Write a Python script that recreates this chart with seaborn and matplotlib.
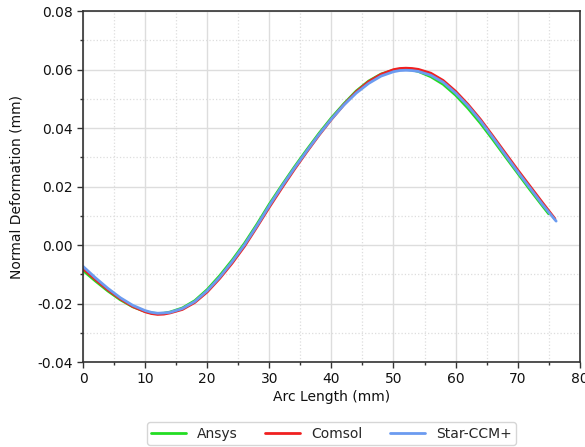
import numpy as np
import pandas as pd
import matplotlib
matplotlib.use("Agg")
import matplotlib.pyplot as plt
import seaborn as sns
from matplotlib.ticker import MultipleLocator

series_names = ["Ansys", "Comsol", "Star-CCM+"]
colors = ["#22dd22", "#f02020", "#6b9bf0"]

ansys_x = [0, 2, 4, 6, 8, 10, 11, 12, 13, 14, 16, 18, 20, 22, 24, 26, 28, 30, 32, 34, 36, 38,
           40, 42, 44, 46, 48, 50, 51, 52, 53, 54, 56, 58, 60, 62, 64, 66, 68, 70, 72, 74, 75]
ansys_y = [-0.0087, -0.0123, -0.0157, -0.0187, -0.0211, -0.0227, -0.0232, -0.0234, -0.0233,
           -0.0229, -0.0215, -0.0190, -0.0152, -0.0105, -0.0052, 0.0006, 0.0071, 0.0140,
           0.0204, 0.0266, 0.0325, 0.0382, 0.0435, 0.0483, 0.0527, 0.0561, 0.0585, 0.0598,
           0.0600, 0.0601, 0.0599, 0.0594, 0.0576, 0.0550, 0.0513, 0.0468, 0.0417, 0.0361,
           0.0303, 0.0246, 0.0189, 0.0134, 0.0107]

comsol_x = [0, 2, 4, 6, 8, 10, 11, 12, 13, 14, 16, 18, 20, 22, 24, 26, 28, 30, 32, 34, 36, 38,
            40, 42, 44, 46, 48, 50, 51, 52, 53, 54, 56, 58, 60, 62, 64, 66, 68, 70, 72, 74, 76]
comsol_y = [-0.0080, -0.0118, -0.0153, -0.0184, -0.0210, -0.0228, -0.0234, -0.0237, -0.0236,
            -0.0232, -0.0220, -0.0196, -0.0160, -0.0114, -0.0062, -0.0004, 0.0062, 0.0130,
            0.0195, 0.0258, 0.0318, 0.0376, 0.0430, 0.0480, 0.0524, 0.0559, 0.0584, 0.0600,
            0.0604, 0.0605, 0.0604, 0.0601, 0.0588, 0.0563, 0.0526, 0.0481, 0.0430, 0.0373,
            0.0315, 0.0257, 0.0201, 0.0145, 0.0090]

star_x = [0, 2, 4, 6, 8, 10, 11, 12, 13, 14, 16, 18, 20, 22, 24, 26, 28, 30, 32, 34, 36, 38,
          40, 42, 44, 46, 48, 50, 51, 52, 53, 54, 56, 58, 60, 62, 64, 66, 68, 70, 72, 74, 76,
          76.2]
star_y = [-0.0073, -0.0112, -0.0148, -0.0180, -0.0206, -0.0224, -0.0230, -0.0233, -0.0232,
          -0.0230, -0.0217, -0.0193, -0.0156, -0.0110, -0.0057, 0.0001, 0.0066, 0.0135,
          0.0200, 0.0262, 0.0321, 0.0378, 0.0431, 0.0479, 0.0520, 0.0553, 0.0578, 0.0593,
          0.0597, 0.0598, 0.0597, 0.0594, 0.0581, 0.0557, 0.0520, 0.0476, 0.0425, 0.0368,
          0.0309, 0.0251, 0.0195, 0.0139, 0.0087, 0.0082]

df = pd.concat([
    pd.DataFrame({"x": ansys_x, "y": ansys_y, "Solver": "Ansys"}),
    pd.DataFrame({"x": comsol_x, "y": comsol_y, "Solver": "Comsol"}),
    pd.DataFrame({"x": star_x, "y": star_y, "Solver": "Star-CCM+"}),
], ignore_index=True)

sns.set_theme(style="whitegrid")
plt.rcParams["font.family"] = ["DejaVu Sans"]

fig = plt.figure(figsize=(5.85, 4.47), dpi=100)
ax = fig.add_axes([0.142, 0.190, 0.849, 0.785])

sns.lineplot(data=df, x="x", y="y", hue="Solver", hue_order=series_names,
             palette=dict(zip(series_names, colors)), linewidth=2, ax=ax,
             sort=False, estimator=None)

ax.set_xlim(0, 80)
ax.set_ylim(-0.04, 0.08)
ax.xaxis.set_major_locator(MultipleLocator(10))
ax.xaxis.set_minor_locator(MultipleLocator(5))
ax.yaxis.set_major_locator(MultipleLocator(0.02))
ax.yaxis.set_minor_locator(MultipleLocator(0.01))
ax.yaxis.set_major_formatter(matplotlib.ticker.FormatStrFormatter("%.2f"))

ax.grid(which="major", color="#dddddd", linestyle="-", linewidth=1.0)
ax.grid(which="minor", color="#dddddd", linestyle=":", linewidth=0.9)
ax.set_axisbelow(True)

for s in ax.spines.values():
    s.set_visible(True)
    s.set_color("#333333")
    s.set_linewidth(1.2)

ax.tick_params(which="major", direction="out", length=4.5, width=1, color="#333333",
               labelsize=10, labelcolor="#111111", bottom=True, left=True, pad=3)
ax.tick_params(which="minor", direction="out", length=2.5, width=1, color="#333333",
               bottom=True, left=True)

ax.set_xlabel("Arc Length (mm)", fontsize=10, color="#111111", labelpad=2.5)
ax.set_ylabel("Normal Deformation (mm)", fontsize=10, color="#111111", labelpad=10)

leg = ax.legend(loc="upper center", bbox_to_anchor=(0.5, -0.16), ncol=3,
                frameon=True, fontsize=10, handlelength=2.5, columnspacing=2.0,
                fancybox=True, borderpad=0.3, borderaxespad=0.3)
leg.get_frame().set_edgecolor("#cccccc")
leg.get_frame().set_linewidth(1.0)

fig.savefig("out.png", dpi=100)
